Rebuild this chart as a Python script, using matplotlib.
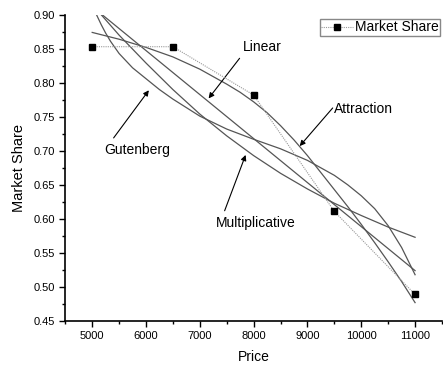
import matplotlib
matplotlib.use("Agg")
import matplotlib.pyplot as plt

plt.rcParams['font.family'] = ['Liberation Sans', 'DejaVu Sans']

# Observed data
price = [5000, 6500, 8000, 9500, 11000]
share = [0.853, 0.853, 0.782, 0.611, 0.489]

# Fitted curves
lin_x = [5000, 11000]
lin_y = [0.912, 0.524]

attr_x = [5000, 5500, 6000, 6500, 7000, 7500, 7750, 8000, 8250, 8500, 8750, 9000,
          9250, 9500, 9750, 10000, 10250, 10500, 10750, 11000]
attr_y = [0.874, 0.864, 0.852, 0.838, 0.820, 0.798, 0.786, 0.772, 0.756, 0.737, 0.716, 0.693,
          0.668, 0.643, 0.618, 0.592, 0.565, 0.537, 0.508, 0.477]

mult_x = [5000, 5167, 5500, 6000, 6500, 7000, 7500, 8000, 8500, 9000, 9500, 10000, 10500, 11000]
mult_y = [0.918, 0.900, 0.870, 0.829, 0.790, 0.754, 0.722, 0.693, 0.667, 0.644, 0.623, 0.605, 0.588, 0.573]

gut_x = [5000, 5080, 5170, 5250, 5340, 5500, 5750, 6000, 6250, 6500, 7000, 7500, 8000, 8500,
         9000, 9500, 9750, 10000, 10250, 10500, 10750, 11000]
gut_y = [0.916, 0.900, 0.885, 0.873, 0.861, 0.843, 0.822, 0.806, 0.790, 0.776, 0.751, 0.732, 0.717, 0.703,
         0.686, 0.664, 0.650, 0.634, 0.615, 0.590, 0.558, 0.518]

fig = plt.figure(figsize=(4.43, 3.68), dpi=100)
ax = fig.add_axes([0.1474, 0.1277, 0.8503, 0.8323])

cc = '#555555'
ax.plot(lin_x, lin_y, color=cc, lw=0.9)
ax.plot(attr_x, attr_y, color=cc, lw=0.9)
ax.plot(mult_x, mult_y, color=cc, lw=0.9)
ax.plot(gut_x, gut_y, color=cc, lw=0.9)

ax.plot(price, share, linestyle=(0, (1, 1)), color='#999999', lw=0.8,
        marker='s', markersize=5, markerfacecolor='black', markeredgecolor='black',
        label='Market Share', clip_on=False, zorder=5)

ax.set_xlim(4500, 11500)
ax.set_ylim(0.45, 0.90)
ax.set_xticks(range(5000, 11001, 1000))
ax.set_xticks(range(4500, 11501, 500), minor=True)
ax.set_yticks([0.45 + 0.05 * i for i in range(10)])
ax.set_yticks([0.45 + 0.025 * i for i in range(19)], minor=True)
ax.set_yticklabels([f"{0.45 + 0.05 * i:.2f}" for i in range(10)])

for s in ['top', 'right']:
    ax.spines[s].set_visible(False)
for s in ['left', 'bottom']:
    ax.spines[s].set_linewidth(1.2)

ax.tick_params(which='major', direction='out', length=4.5, width=1, labelsize=8, pad=3)
ax.tick_params(which='minor', direction='out', length=2.5, width=1)

ax.set_xlabel('Price', fontsize=10, labelpad=6)
ax.set_ylabel('Market Share', fontsize=10.5, labelpad=5)

arrow = dict(arrowstyle='-|>', color='black', lw=0.8, mutation_scale=8, shrinkA=0, shrinkB=0)
ax.annotate('', xy=(7163, 0.777), xytext=(7739, 0.836), arrowprops=arrow)
ax.annotate('', xy=(6053, 0.789), xytext=(5398, 0.719), arrowprops=arrow)
ax.annotate('', xy=(8856, 0.707), xytext=(9469, 0.763), arrowprops=arrow)
ax.annotate('', xy=(7851, 0.694), xytext=(7461, 0.612), arrowprops=arrow)

ax.text(8162, 0.852, 'Linear', fontsize=10, ha='center', va='center')
ax.text(5830, 0.701, 'Gutenberg', fontsize=10, ha='center', va='center')
ax.text(10042, 0.762, 'Attraction', fontsize=10, ha='center', va='center')
ax.text(8031, 0.594, 'Multiplicative', fontsize=10, ha='center', va='center')

leg = ax.legend(loc='upper right', bbox_to_anchor=(0.995, 0.986), borderaxespad=0,
                fontsize=10, fancybox=False, handlelength=2.3, handletextpad=0.15,
                borderpad=0.1, framealpha=1)
leg.get_frame().set_edgecolor('#888888')
leg.get_frame().set_linewidth(1.0)

fig.savefig('out.png', dpi=100)
